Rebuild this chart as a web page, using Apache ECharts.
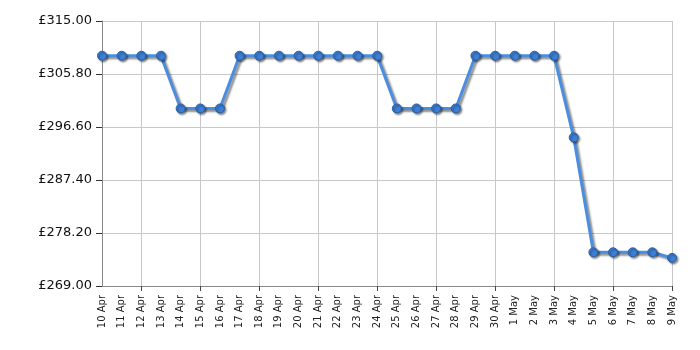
<!DOCTYPE html>
<html><head><meta charset="utf-8">
<script src="https://cdn.jsdelivr.net/npm/echarts@6/dist/echarts.min.js"></script>
<style>html,body{margin:0;padding:0;background:#fff}#c{width:700px;height:350px}</style>
</head><body><div id="c"></div>
<script>
const categories = ['10 Apr','11 Apr','12 Apr','13 Apr','14 Apr','15 Apr','16 Apr','17 Apr','18 Apr','19 Apr','20 Apr','21 Apr','22 Apr','23 Apr','24 Apr','25 Apr','26 Apr','27 Apr','28 Apr','29 Apr','30 Apr','1 May','2 May','3 May','4 May','5 May','6 May','7 May','8 May','9 May'];
const prices = [308.97,308.97,308.97,308.97,299.82,299.82,299.82,308.97,308.97,308.97,308.97,308.97,308.97,308.97,308.97,299.82,299.82,299.82,299.82,308.97,308.97,308.97,308.97,308.97,294.8,274.85,274.85,274.85,274.85,273.88];
const yMin = 269, yMax = 315, yStep = 9.2;

const chart = echarts.init(document.getElementById('c'), null, {renderer:'canvas'});
const everyThird = (i) => i % 3 === 2;
chart.setOption({
  animation:false,
  grid:{left:102,right:28,top:21,bottom:64,containLabel:false},
  xAxis:{
    type:'category', data:categories, boundaryGap:false,
    axisLine:{lineStyle:{color:'#888',width:1}},
    axisTick:{show:true,interval:everyThird,length:5,lineStyle:{color:'#444'}},
    splitLine:{show:true,interval:everyThird,lineStyle:{color:'#c8c8c8',width:1}},
    axisLabel:{interval:0,rotate:90,fontFamily:'DejaVu Sans',fontSize:10,color:'#222',margin:9}
  },
  yAxis:{
    type:'value', min:yMin, max:yMax, interval:yStep,
    axisLine:{show:true,lineStyle:{color:'#888',width:1}},
    axisTick:{show:true,length:6,lineStyle:{color:'#333'}},
    splitLine:{show:true,lineStyle:{color:'#c8c8c8',width:1}},
    axisLabel:{fontFamily:'DejaVu Sans',fontSize:13,color:'#111',margin:10,formatter:(v)=>'£'+v.toFixed(2)}
  },
  series:[{
    type:'line', data:prices, symbol:'circle', symbolSize:9,
    lineStyle:{color:'#4a8ee0',width:3,shadowColor:'rgba(0,0,0,0.45)',shadowBlur:2,shadowOffsetX:2,shadowOffsetY:2},
    itemStyle:{color:'#3d7fd6',borderColor:'#2b5f9f',borderWidth:1,shadowColor:'rgba(0,0,0,0.45)',shadowBlur:2,shadowOffsetX:1.5,shadowOffsetY:1.5}
  }]
});
</script></body></html>
